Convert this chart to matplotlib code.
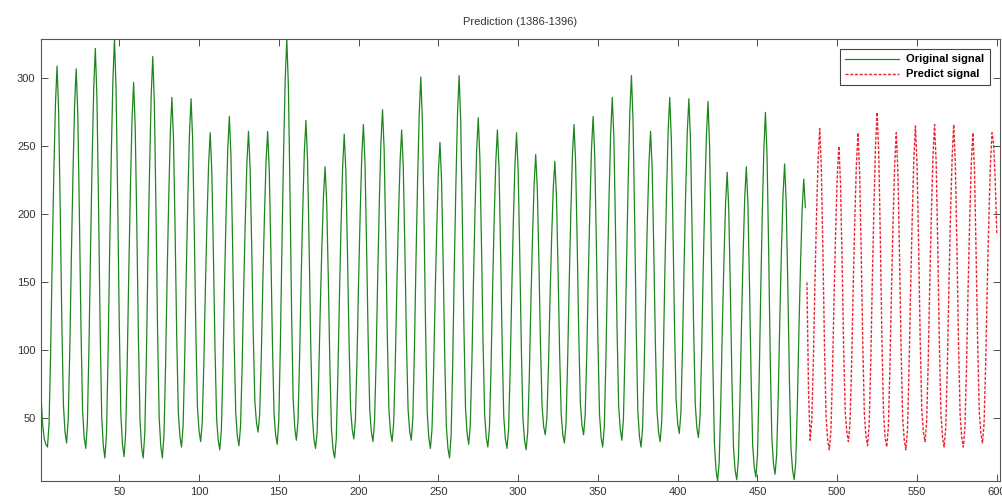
import numpy as np
import matplotlib
matplotlib.use('Agg')
import matplotlib.pyplot as plt

#==============================================================================
# Data (monthly values)
#==============================================================================

# original signal, months 1..480 (one row per year)
original_signal = [
    65, 45, 35, 31, 29, 46, 99, 169, 231, 281, 309, 276,
    204, 121, 60, 40, 32, 49, 101, 170, 230, 280, 307, 274,
    201, 117, 56, 36, 28, 46, 102, 175, 240, 293, 322, 286,
    208, 117, 51, 30, 21, 39, 98, 175, 243, 298, 329, 292,
    212, 120, 53, 31, 22, 39, 91, 160, 220, 270, 297, 264,
    192, 109, 49, 29, 21, 39, 95, 169, 233, 287, 316, 281,
    204, 115, 51, 30, 21, 37, 87, 154, 212, 260, 286, 255,
    188, 111, 55, 37, 29, 44, 93, 157, 213, 259, 285, 255,
    189, 114, 58, 41, 33, 47, 90, 147, 196, 237, 260, 232,
    171, 102, 50, 34, 27, 42, 88, 150, 203, 248, 272, 243,
    180, 107, 54, 37, 30, 44, 88, 146, 196, 238, 261, 234,
    177, 111, 62, 47, 40, 53, 95, 151, 199, 239, 261, 233,
    174, 105, 54, 38, 31, 49, 106, 180, 246, 299, 329, 294,
    217, 128, 64, 43, 34, 48, 93, 152, 203, 246, 269, 240,
    177, 105, 52, 35, 28, 40, 80, 132, 177, 214, 235, 209,
    154, 89, 42, 27, 21, 35, 81, 140, 192, 235, 259, 232,
    174, 107, 57, 42, 35, 49, 93, 151, 201, 243, 266, 238,
    177, 108, 56, 40, 33, 48, 94, 155, 209, 253, 277, 248,
    184, 111, 57, 40, 33, 47, 90, 148, 198, 239, 262, 235,
    175, 107, 57, 41, 34, 50, 101, 168, 226, 274, 301, 268,
    197, 115, 55, 36, 28, 42, 84, 141, 190, 231, 253, 225,
    165, 95, 44, 28, 21, 38, 91, 162, 223, 274, 302, 269,
    199, 118, 58, 39, 31, 45, 91, 151, 204, 247, 271, 242,
    179, 106, 53, 36, 29, 43, 87, 146, 197, 239, 262, 234,
    173, 103, 51, 35, 28, 42, 86, 144, 195, 237, 260, 232,
    171, 102, 50, 34, 27, 40, 81, 136, 183, 222, 244, 219,
    166, 104, 59, 44, 38, 50, 88, 139, 183, 219, 239, 214,
    160, 98, 53, 38, 32, 46, 91, 149, 200, 243, 266, 239,
    179, 111, 61, 45, 38, 52, 97, 155, 206, 249, 272, 243,
    180, 107, 53, 36, 29, 44, 93, 158, 214, 260, 286, 256,
    190, 115, 59, 42, 34, 50, 101, 168, 227, 275, 302, 269,
    198, 116, 56, 37, 29, 43, 87, 145, 196, 238, 261, 234,
    174, 106, 56, 40, 33, 48, 96, 160, 215, 261, 286, 256,
    192, 118, 64, 46, 39, 54, 101, 162, 216, 260, 285, 255,
    190, 116, 61, 43, 36, 51, 98, 160, 214, 258, 283, 250,
    177, 93, 32, 12, 4, 18, 61, 118, 167, 208, 231, 204,
    145, 77, 28, 12, 5, 19, 63, 120, 171, 212, 235, 208,
    148, 80, 30, 14, 7, 23, 74, 141, 200, 248, 275, 243,
    174, 94, 36, 17, 9, 23, 66, 123, 173, 214, 237, 209,
    149, 79, 28, 12, 5, 18, 60, 116, 164, 204, 226, 205,
]

# predicted signal, months 481..600
predict_signal = [
    150, 70, 34, 48, 91, 149, 199, 240, 263, 235, 173, 103,
    51, 34, 27, 40, 83, 139, 188, 228, 250, 224, 168, 102,
    55, 40, 33, 47, 90, 147, 196, 237, 260, 232, 173, 104,
    53, 37, 30, 45, 91, 153, 206, 251, 275, 245, 182, 108,
    54, 36, 29, 43, 87, 145, 195, 237, 260, 232, 171, 102,
    50, 34, 27, 41, 87, 146, 198, 241, 265, 237, 177, 107,
    56, 40, 33, 47, 91, 150, 201, 243, 266, 238, 176, 105,
    53, 36, 29, 43, 88, 148, 200, 242, 266, 238, 176, 105,
    53, 36, 29, 43, 87, 145, 195, 237, 260, 233, 173, 105,
    55, 39, 32, 46, 89, 146, 196, 237, 260, 252, 225, 185,
]

x_ticks = [50, 100, 150, 200, 250, 300, 350, 400, 450, 500, 550, 600]
y_ticks = [50, 100, 150, 200, 250, 300]

x_orig = np.arange(1, len(original_signal) + 1)
x_pred = np.arange(len(original_signal) + 1, len(original_signal) + len(predict_signal) + 1)

#==============================================================================
# Plot
#==============================================================================

plt.rcParams.update({'font.family': ['Liberation Sans', 'DejaVu Sans']})

fig = plt.figure(figsize=(10.02, 4.98), dpi=100)
ax = fig.add_axes([0.041, 0.034, 0.957, 0.888])

ax.plot(x_orig, original_signal, color='#1e861e', linewidth=0.9, label='Original signal')
ax.plot(x_pred, predict_signal, color='#ea2430', linestyle='--', dashes=(2.2, 1.2),
        linewidth=1.0, label='Predict signal')

ax.set_xlim(1, 602)
ax.set_ylim(4, 329)
ax.set_xticks(x_ticks)
ax.set_yticks(y_ticks)
ax.tick_params(direction='in', top=True, right=True, length=5, width=0.6,
               labelsize=8, colors='#333333', pad=4)
for s in ax.spines.values():
    s.set_linewidth(0.8)
    s.set_color('#555555')

ax.set_title('Prediction (1386-1396)', fontsize=8, color='#333333', pad=10)

# legend
leg = ax.legend(loc='upper right', prop={'weight': 'bold', 'size': 8},
                handlelength=4.8, handletextpad=0.7, borderaxespad=0.9,
                fancybox=False, framealpha=1, borderpad=0.5, labelspacing=0.45)
leg.get_frame().set_edgecolor('#444444')
leg.get_frame().set_linewidth(0.8)

fig.savefig('out.png', dpi=100)
